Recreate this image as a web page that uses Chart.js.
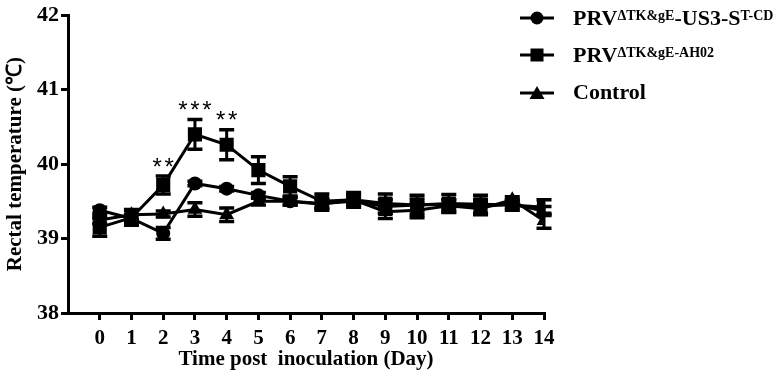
<!DOCTYPE html>
<html>
<head>
<meta charset="utf-8">
<script src="https://cdn.jsdelivr.net/npm/chart.js@4.4.0/dist/chart.umd.min.js"></script>
<style>
    body { margin: 0; background: #fff; }
    #wrap { position: relative; width: 780px; height: 384px; }
    #legend { position: absolute; left: 520px; top: 0; font-family: "Liberation Serif", serif; font-weight: bold; color: #000; }
    .item { position: absolute; left: 0; white-space: nowrap; display: flex; align-items: center; font-size: 22px; }
    .item svg { margin-right: 19px; }
    .item sup { font-size: 14px; position: relative; top: -2px; }
</style>
</head>
<body>
<div id="wrap">
    <canvas id="tempChart" width="780" height="384"></canvas>
    <div id="legend">
        <div class="item" style="top:5px"><svg width="34" height="16"><line x1="0" y1="8" x2="34" y2="8" stroke="#000" stroke-width="3"/><circle cx="17" cy="8" r="6.5"/></svg>PRV<sup>ΔTK&amp;gE</sup>-US3-S<sup>T-CD</sup></div>
        <div class="item" style="top:42px"><svg width="34" height="16"><line x1="0" y1="8" x2="34" y2="8" stroke="#000" stroke-width="3"/><rect x="10.5" y="1.5" width="13" height="13"/></svg>PRV<sup>ΔTK&amp;gE-AH02</sup></div>
        <div class="item" style="top:79px"><svg width="34" height="16"><line x1="0" y1="9" x2="34" y2="9" stroke="#000" stroke-width="3"/><polygon points="17,2 24.5,15 9.5,15"/></svg>Control</div>
    </div>
</div>
<script>
// Days post inoculation
const days = [0, 1, 2, 3, 4, 5, 6, 7, 8, 9, 10, 11, 12, 13, 14];

// Mean rectal temperature per group
const us3Mean = [39.38, 39.27, 39.07, 39.74, 39.67, 39.58, 39.50, 39.47, 39.50, 39.43, 39.45, 39.46, 39.43, 39.46, 39.37];
const ah02Mean = [39.15, 39.28, 39.72, 40.40, 40.26, 39.92, 39.70, 39.50, 39.52, 39.47, 39.45, 39.47, 39.46, 39.45, 39.42];
const controlMean = [39.25, 39.32, 39.33, 39.39, 39.32, 39.50, 39.50, 39.46, 39.52, 39.36, 39.38, 39.44, 39.40, 39.52, 39.24];

// Standard error bars
const us3Err = [0.04, 0.05, 0.08, 0.03, 0.03, 0.04, 0.05, 0.05, 0.05, 0.09, 0.08, 0.06, 0.09, 0.05, 0.06];
const ah02Err = [0.12, 0.10, 0.12, 0.20, 0.20, 0.18, 0.13, 0.10, 0.10, 0.13, 0.13, 0.12, 0.12, 0.07, 0.10];
const controlErr = [0.05, 0.07, 0.04, 0.09, 0.09, 0.05, 0.05, 0.08, 0.07, 0.09, 0.10, 0.08, 0.08, 0.04, 0.10];

// Significance marks (AH02 vs others)
const sigDays = [2, 3, 4];
const sigLabels = ["**", "***", "**"];

const yTicks = [38, 39, 40, 41, 42];

const serif = "'Liberation Serif', 'Times New Roman', serif";

const toPoints = (vals) => vals.map((v, i) => ({ x: days[i], y: v }));

// draws error bars and significance stars with the chart's scales
const errorBars = {
    id: "errorBars",
    afterDatasetsDraw(chart) {
        const { ctx, scales: { x, y } } = chart;
        const errs = [us3Err, ah02Err, controlErr];
        ctx.save();
        ctx.strokeStyle = "#000";
        chart.data.datasets.forEach((ds, di) => {
            ds.data.forEach((p, i) => {
                const px = x.getPixelForValue(p.x);
                const top = y.getPixelForValue(p.y + errs[di][i]);
                const bot = y.getPixelForValue(p.y - errs[di][i]);
                ctx.lineWidth = 3;
                ctx.beginPath();
                ctx.moveTo(px, top);
                ctx.lineTo(px, bot);
                ctx.stroke();
                ctx.lineWidth = 3.5;
                ctx.beginPath();
                ctx.moveTo(px - 7.5, top);
                ctx.lineTo(px + 7.5, top);
                ctx.moveTo(px - 7.5, bot);
                ctx.lineTo(px + 7.5, bot);
                ctx.stroke();
            });
        });
        ctx.fillStyle = "#000";
        ctx.font = "24px 'Liberation Sans', sans-serif";
        ctx.textAlign = "center";
        ctx.textBaseline = "middle";
        sigDays.forEach((d, k) => {
            const i = days.indexOf(d);
            const px = x.getPixelForValue(d);
            const py = y.getPixelForValue(ah02Mean[i] + ah02Err[i]) - 8;
            const n = sigLabels[k].length;
            for (let s = 0; s < n; s++) {
                ctx.fillText("*", px + (s - (n - 1) / 2) * 12, py);
            }
        });
        ctx.restore();
    },
};

const ctx = document.getElementById("tempChart").getContext("2d");

const tempChart = new Chart(ctx, {
    type: "line",
    data: {
        datasets: [
            { label: "US3", data: toPoints(us3Mean), pointStyle: "circle", pointRadius: 7 },
            { label: "AH02", data: toPoints(ah02Mean), pointStyle: "rect", pointRadius: 10 },
            { label: "Control", data: toPoints(controlMean), pointStyle: "triangle", pointRadius: 8.5 },
        ].map(ds => ({
            ...ds,
            borderColor: "#000",
            backgroundColor: "#000",
            borderWidth: 3,
            pointBorderWidth: 0,
            tension: 0,
        })),
    },
    options: {
        responsive: false,
        animation: false,
        layout: { padding: { top: 11, right: 236, left: 0, bottom: 12 } },
        plugins: {
            legend: { display: false },
            tooltip: { enabled: false },
        },
        scales: {
            x: {
                type: "linear",
                min: -1,
                max: 14,
                afterFit: (s) => { s.height = 59; },
                afterBuildTicks: (s) => { s.ticks = [-1].concat(days).map(v => ({ value: v })); },
                border: { display: true, color: "#000", width: 3 },
                grid: {
                    drawOnChartArea: false,
                    drawTicks: true,
                    tickLength: 7,
                    lineWidth: 3,
                    color: (c) => (c.tick && c.tick.value === -1 ? "rgba(0,0,0,0)" : "#000"),
                },
                ticks: {
                    color: "#000",
                    padding: 6,
                    font: { family: serif, size: 21, weight: "bold" },
                    callback: (v) => (v < 0 ? "" : v),
                },
                title: {
                    display: true,
                    text: "Time post  inoculation (Day)",
                    color: "#000",
                    padding: { top: 0, bottom: 0 },
                    font: { family: serif, size: 21, weight: "bold" },
                },
            },
            y: {
                min: 38,
                max: 42,
                afterFit: (s) => { s.width = 68; },
                afterBuildTicks: (s) => { s.ticks = yTicks.map(v => ({ value: v })); },
                border: { display: true, color: "#000", width: 3 },
                grid: {
                    drawOnChartArea: false,
                    drawTicks: true,
                    tickLength: 7,
                    lineWidth: 3,
                    color: "#000",
                },
                ticks: {
                    color: "#000",
                    padding: 2,
                    font: { family: serif, size: 22, weight: "bold" },
                },
                title: {
                    display: true,
                    text: "Rectal temperature (℃)",
                    color: "#000",
                    padding: { top: 3, bottom: 0 },
                    font: { family: serif, size: 21, weight: "bold" },
                },
            },
        },
    },
    plugins: [errorBars],
});
</script>
</body>
</html>
